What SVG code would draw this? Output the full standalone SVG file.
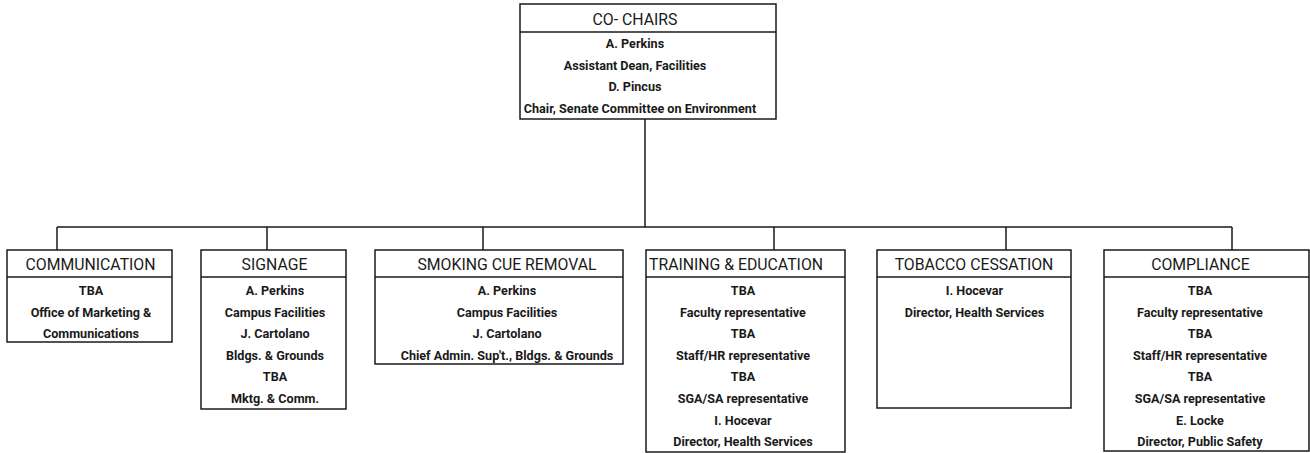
<svg xmlns="http://www.w3.org/2000/svg" width="1310" height="453" viewBox="0 0 1310 453">
<style>
.box{fill:#fff;stroke:#1a1a1a;stroke-width:1.5}
.dv{stroke:#1a1a1a;stroke-width:1.5}
.ln{stroke:#1a1a1a;stroke-width:1.5;fill:none}
.hd{font-family:Roboto,"Liberation Sans",sans-serif;font-size:15.8px;fill:#1a1a1a;text-anchor:middle}
.bd{font-family:Roboto,"Liberation Sans",sans-serif;font-size:12.6px;font-weight:bold;fill:#1a1a1a;text-anchor:middle}
</style>
<rect width="1310" height="453" fill="#fff"/>
<g id="connectors">
<path class="ln" d="M645,119 V227 M57,227 H1232 M57,227 V250 M267,227 V250 M483,227 V250 M774,227 V250 M1006,227 V250 M1232,227 V250"/>
</g>
<g id="co-chairs">
<rect class="box" x="520" y="4" width="256" height="115"/>
<line class="dv" x1="520" y1="32" x2="776" y2="32"/>
<text class="hd" x="635" y="25">CO- CHAIRS</text>
<text class="bd" x="635" y="48">A. Perkins</text>
<text class="bd" x="635" y="69.5">Assistant Dean, Facilities</text>
<text class="bd" x="635" y="91">D. Pincus</text>
<text class="bd" x="640" y="112.5">Chair, Senate Committee on Environment</text>
</g>
<g id="communication">
<rect class="box" x="7" y="250" width="165" height="92"/>
<line class="dv" x1="7" y1="277" x2="172" y2="277"/>
<text class="hd" x="90.5" y="270">COMMUNICATION</text>
<text class="bd" x="91" y="295">TBA</text>
<text class="bd" x="91" y="316.6">Office of Marketing &amp;</text>
<text class="bd" x="91" y="338.2">Communications</text>
</g>
<g id="signage">
<rect class="box" x="201" y="250" width="145" height="159"/>
<line class="dv" x1="201" y1="277" x2="346" y2="277"/>
<text class="hd" x="274.5" y="270">SIGNAGE</text>
<text class="bd" x="275" y="295">A. Perkins</text>
<text class="bd" x="275" y="316.6">Campus Facilities</text>
<text class="bd" x="275" y="338.2">J. Cartolano</text>
<text class="bd" x="275" y="359.8">Bldgs. &amp; Grounds</text>
<text class="bd" x="275" y="381.4">TBA</text>
<text class="bd" x="275" y="403">Mktg. &amp; Comm.</text>
</g>
<g id="smoking-cue-removal">
<rect class="box" x="375" y="250" width="248" height="114"/>
<line class="dv" x1="375" y1="277" x2="623" y2="277"/>
<text class="hd" x="507" y="270">SMOKING CUE REMOVAL</text>
<text class="bd" x="507" y="295">A. Perkins</text>
<text class="bd" x="507" y="316.6">Campus Facilities</text>
<text class="bd" x="507" y="338.2">J. Cartolano</text>
<text class="bd" x="507" y="359.8">Chief Admin. Sup't., Bldgs. &amp; Grounds</text>
</g>
<g id="training-education">
<rect class="box" x="646" y="250" width="199" height="202"/>
<line class="dv" x1="646" y1="277" x2="845" y2="277"/>
<text class="hd" x="736" y="270">TRAINING &amp; EDUCATION</text>
<text class="bd" x="743" y="295">TBA</text>
<text class="bd" x="743" y="316.6">Faculty representative</text>
<text class="bd" x="743" y="338.2">TBA</text>
<text class="bd" x="743" y="359.8">Staff/HR representative</text>
<text class="bd" x="743" y="381.4">TBA</text>
<text class="bd" x="743" y="403">SGA/SA representative</text>
<text class="bd" x="743" y="424.6">I. Hocevar</text>
<text class="bd" x="743" y="446.2">Director, Health Services</text>
</g>
<g id="tobacco-cessation">
<rect class="box" x="877" y="250" width="194" height="158"/>
<line class="dv" x1="877" y1="277" x2="1071" y2="277"/>
<text class="hd" x="974" y="270">TOBACCO CESSATION</text>
<text class="bd" x="974.5" y="295">I. Hocevar</text>
<text class="bd" x="974.5" y="316.6">Director, Health Services</text>
</g>
<g id="compliance">
<rect class="box" x="1104" y="250" width="205" height="201"/>
<line class="dv" x1="1104" y1="277" x2="1309" y2="277"/>
<text class="hd" x="1200.5" y="270">COMPLIANCE</text>
<text class="bd" x="1200" y="295">TBA</text>
<text class="bd" x="1200" y="316.6">Faculty representative</text>
<text class="bd" x="1200" y="338.2">TBA</text>
<text class="bd" x="1200" y="359.8">Staff/HR representative</text>
<text class="bd" x="1200" y="381.4">TBA</text>
<text class="bd" x="1200" y="403">SGA/SA representative</text>
<text class="bd" x="1200" y="424.6">E. Locke</text>
<text class="bd" x="1200" y="446.2">Director, Public Safety</text>
</g>
</svg>
